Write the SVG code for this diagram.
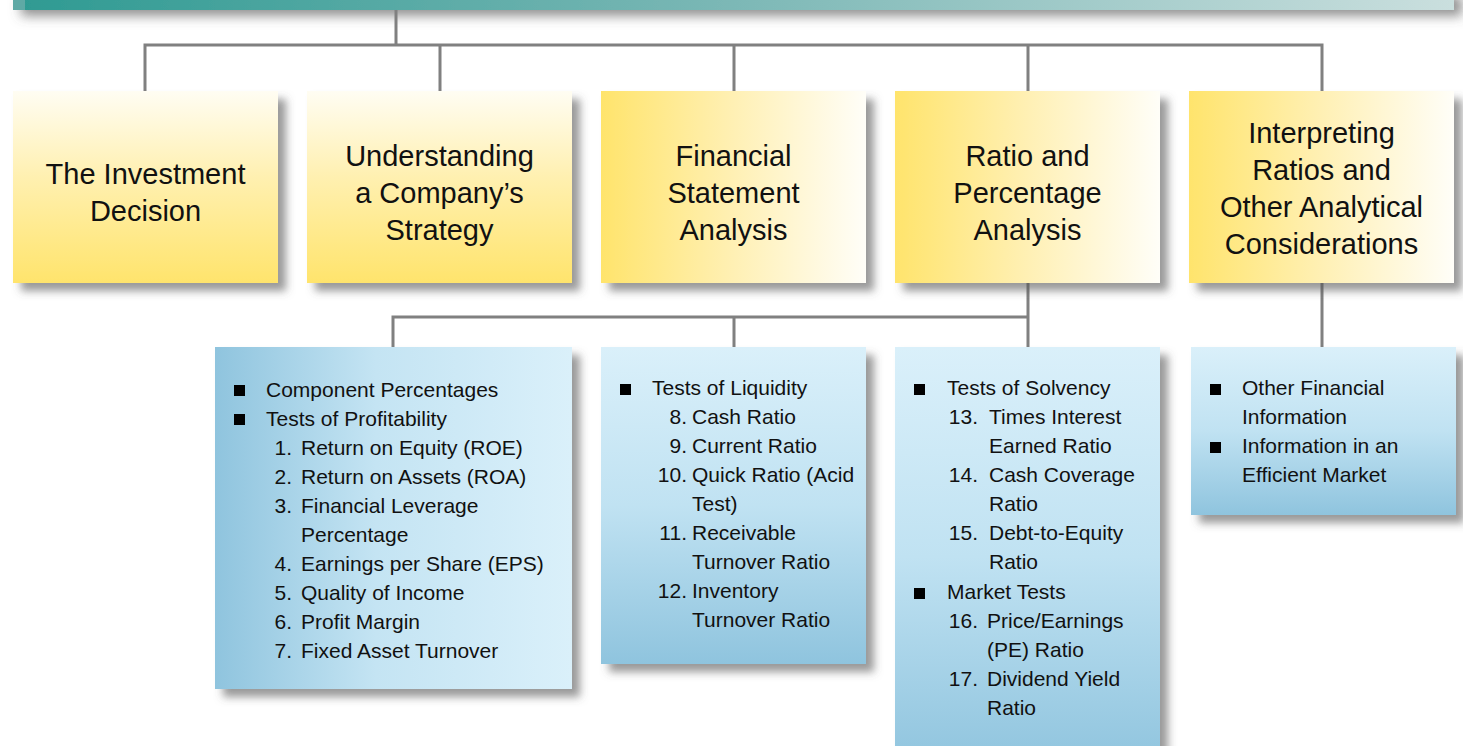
<svg xmlns="http://www.w3.org/2000/svg" width="1463" height="746" viewBox="0 0 1463 746">
<defs>
<linearGradient id="banner" x1="0" y1="0" x2="1" y2="0">
<stop offset="0" stop-color="#2e9a92"/>
<stop offset="0.5" stop-color="#7cb8b6"/>
<stop offset="1" stop-color="#cadfde"/>
</linearGradient>
<linearGradient id="yv" x1="0" y1="0" x2="0" y2="1">
<stop offset="0" stop-color="#fffdf3"/>
<stop offset="0.45" stop-color="#fff0b0"/>
<stop offset="1" stop-color="#ffe46c"/>
</linearGradient>
<linearGradient id="yh" x1="0" y1="0" x2="1" y2="0">
<stop offset="0" stop-color="#ffe46c"/>
<stop offset="0.5" stop-color="#fff0b4"/>
<stop offset="1" stop-color="#fffef8"/>
</linearGradient>
<linearGradient id="bh" x1="0" y1="0" x2="1" y2="0">
<stop offset="0" stop-color="#8fc4de"/>
<stop offset="0.45" stop-color="#c4e4f3"/>
<stop offset="1" stop-color="#daf0fa"/>
</linearGradient>
<linearGradient id="bv" x1="0" y1="0" x2="0" y2="1">
<stop offset="0" stop-color="#daf0fa"/>
<stop offset="0.5" stop-color="#c0e2f2"/>
<stop offset="1" stop-color="#8fc4de"/>
</linearGradient>
<filter id="sh" x="-10%" y="-10%" width="125%" height="130%">
<feDropShadow dx="8" dy="8" stdDeviation="4" flood-color="#555" flood-opacity="0.6"/>
</filter>
<filter id="shb" x="-5%" y="-50%" width="110%" height="300%">
<feDropShadow dx="8" dy="6" stdDeviation="6" flood-color="#555" flood-opacity="0.65"/>
</filter>
</defs>
<style>
.t{font-family:"Liberation Sans",Arial,sans-serif;font-size:29px;fill:#111;text-anchor:middle}
.b{font-family:"Liberation Sans",Arial,sans-serif;font-size:21px;fill:#111}
.n{text-anchor:end}
.c{stroke:#808080;stroke-width:3;fill:none}
</style>
<g id="banner-node">
<rect x="13" y="-10" width="1441" height="20" fill="url(#banner)" filter="url(#shb)"/>
<rect x="13" y="-10" width="12" height="20" fill="#5fa9a5"/>
</g>
<g id="connectors">
<path class="c" d="M396 10V45M145 91V45H1322V91M440 45V91M734 45V91M1028 45V91"/>
<path class="c" d="M1028 283V347M393 347V317H1028M734 317V347M1322 283V347"/>
</g>
<g id="node-investment">
<rect x="13" y="91" width="265" height="192" fill="url(#yv)" filter="url(#sh)"/>
<text class="t" x="145.5" y="184">The Investment</text>
<text class="t" x="145.5" y="221">Decision</text>
</g>
<g id="node-strategy">
<rect x="307" y="91" width="265" height="192" fill="url(#yv)" filter="url(#sh)"/>
<text class="t" x="439.5" y="166">Understanding</text>
<text class="t" x="439.5" y="203">a Company’s</text>
<text class="t" x="439.5" y="240">Strategy</text>
</g>
<g id="node-fsa">
<rect x="601" y="91" width="265" height="192" fill="url(#yh)" filter="url(#sh)"/>
<text class="t" x="733.5" y="166">Financial</text>
<text class="t" x="733.5" y="203">Statement</text>
<text class="t" x="733.5" y="240">Analysis</text>
</g>
<g id="node-ratio">
<rect x="895" y="91" width="265" height="192" fill="url(#yh)" filter="url(#sh)"/>
<text class="t" x="1027.5" y="166">Ratio and</text>
<text class="t" x="1027.5" y="203">Percentage</text>
<text class="t" x="1027.5" y="240">Analysis</text>
</g>
<g id="node-interpreting">
<rect x="1189" y="91" width="265" height="192" fill="url(#yh)" filter="url(#sh)"/>
<text class="t" x="1321.5" y="143">Interpreting</text>
<text class="t" x="1321.5" y="180">Ratios and</text>
<text class="t" x="1321.5" y="217">Other Analytical</text>
<text class="t" x="1321.5" y="254">Considerations</text>
</g>
<g id="node-profitability">
<rect x="215" y="347" width="357" height="342" fill="url(#bh)" filter="url(#sh)"/>
<rect x="234" y="385" width="11" height="11" fill="#000"/>
<rect x="234" y="414" width="11" height="11" fill="#000"/>
<text class="b" x="266" y="397">Component Percentages</text>
<text class="b" x="266" y="426">Tests of Profitability</text>
<text class="b n" x="292" y="455">1.</text><text class="b" x="301" y="455">Return on Equity (ROE)</text>
<text class="b n" x="292" y="484">2.</text><text class="b" x="301" y="484">Return on Assets (ROA)</text>
<text class="b n" x="292" y="513">3.</text><text class="b" x="301" y="513">Financial Leverage</text>
<text class="b" x="301" y="542">Percentage</text>
<text class="b n" x="292" y="571">4.</text><text class="b" x="301" y="571">Earnings per Share (EPS)</text>
<text class="b n" x="292" y="600">5.</text><text class="b" x="301" y="600">Quality of Income</text>
<text class="b n" x="292" y="629">6.</text><text class="b" x="301" y="629">Profit Margin</text>
<text class="b n" x="292" y="658">7.</text><text class="b" x="301" y="658">Fixed Asset Turnover</text>
</g>
<g id="node-liquidity">
<rect x="601" y="347" width="265" height="317" fill="url(#bv)" filter="url(#sh)"/>
<rect x="620" y="384" width="11" height="11" fill="#000"/>
<text class="b" x="652" y="395">Tests of Liquidity</text>
<text class="b n" x="687" y="424">8.</text><text class="b" x="692" y="424">Cash Ratio</text>
<text class="b n" x="687" y="453">9.</text><text class="b" x="692" y="453">Current Ratio</text>
<text class="b n" x="687" y="482">10.</text><text class="b" x="692" y="482">Quick Ratio (Acid</text>
<text class="b" x="692" y="511">Test)</text>
<text class="b n" x="687" y="540">11.</text><text class="b" x="692" y="540">Receivable</text>
<text class="b" x="692" y="569">Turnover Ratio</text>
<text class="b n" x="687" y="598">12.</text><text class="b" x="692" y="598">Inventory</text>
<text class="b" x="692" y="627">Turnover Ratio</text>
</g>
<g id="node-solvency">
<rect x="895" y="347" width="265" height="420" fill="url(#bv)" filter="url(#sh)"/>
<rect x="914" y="384" width="11" height="11" fill="#000"/>
<rect x="914" y="588" width="11" height="11" fill="#000"/>
<text class="b" x="947" y="395">Tests of Solvency</text>
<text class="b n" x="978" y="424">13.</text><text class="b" x="989" y="424">Times Interest</text>
<text class="b" x="989" y="453">Earned Ratio</text>
<text class="b n" x="978" y="482">14.</text><text class="b" x="989" y="482">Cash Coverage</text>
<text class="b" x="989" y="511">Ratio</text>
<text class="b n" x="978" y="540">15.</text><text class="b" x="989" y="540">Debt-to-Equity</text>
<text class="b" x="989" y="569">Ratio</text>
<text class="b" x="947" y="599">Market Tests</text>
<text class="b n" x="978" y="628">16.</text><text class="b" x="987" y="628">Price/Earnings</text>
<text class="b" x="987" y="657">(PE) Ratio</text>
<text class="b n" x="978" y="686">17.</text><text class="b" x="987" y="686">Dividend Yield</text>
<text class="b" x="987" y="715">Ratio</text>
</g>
<g id="node-other">
<rect x="1191" y="347" width="265" height="168" fill="url(#bv)" filter="url(#sh)"/>
<rect x="1210" y="384" width="11" height="11" fill="#000"/>
<rect x="1210" y="442" width="11" height="11" fill="#000"/>
<text class="b" x="1242" y="395">Other Financial</text>
<text class="b" x="1242" y="424">Information</text>
<text class="b" x="1242" y="453">Information in an</text>
<text class="b" x="1242" y="482">Efficient Market</text>
</g>
</svg>
